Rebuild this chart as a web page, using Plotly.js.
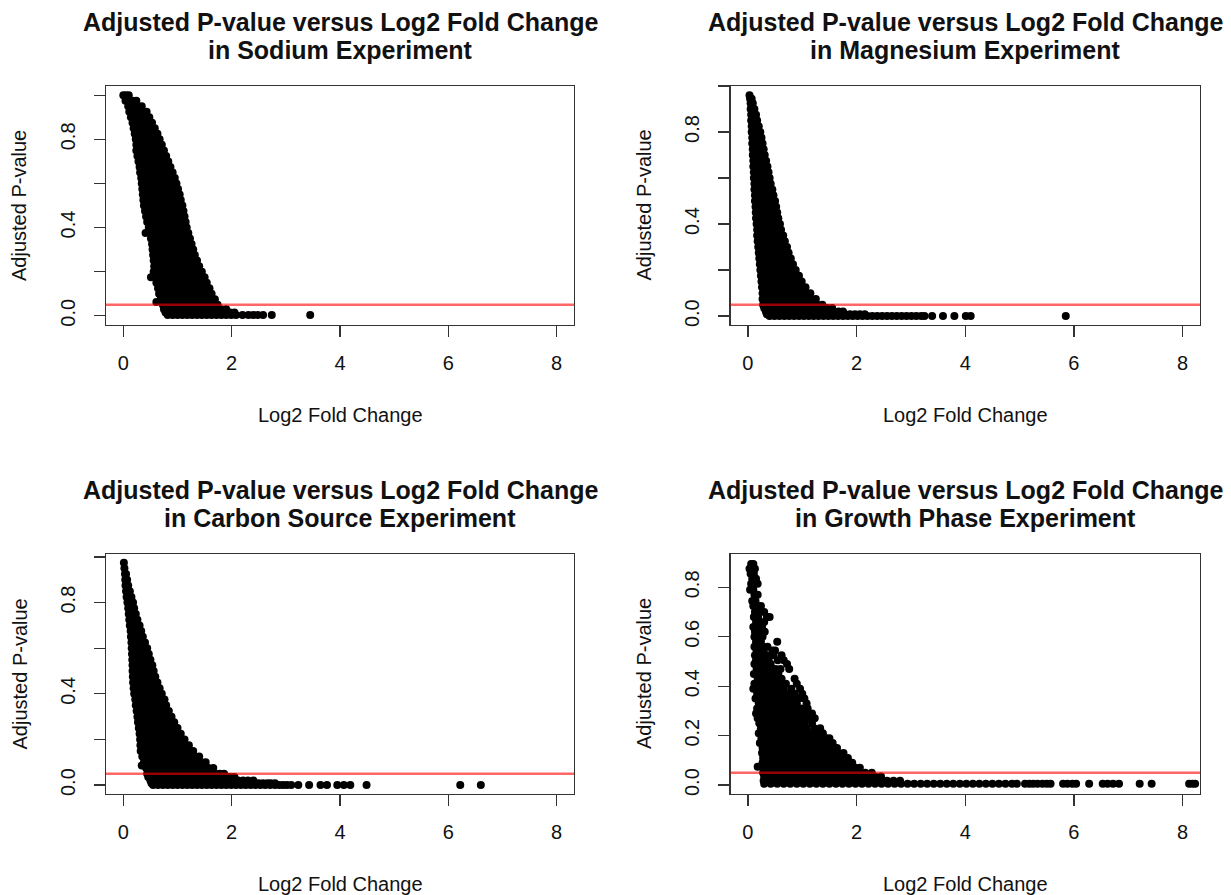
<!DOCTYPE html>
<html>
<head>
<meta charset="utf-8">
<script src="https://cdn.plot.ly/plotly-3.0.1.min.js"></script>
<style>
  html, body { margin: 0; padding: 0; background: #ffffff; }
  #chart { width: 1231px; height: 895px; }
</style>
</head>
<body>
<div id="chart"></div>
<script>
// ---------------- Data ----------------
// Each experiment: adjusted p-value levels, and the log2 fold changes of the genes seen at each level.
const experiments = ["Sodium", "Magnesium", "Carbon Source", "Growth Phase"];
const xTicks = [0, 2, 4, 6, 8];
const cutoff = 0.05;

const sodiumPadj = [1.000, 0.975, 0.950, 0.925, 0.900, 0.875, 0.850, 0.825, 0.800, 0.775, 0.750, 0.725, 0.700, 0.675, 0.650, 0.625, 0.600, 0.575, 0.550, 0.525, 0.500, 0.475, 0.450, 0.425, 0.400, 0.375, 0.350, 0.325, 0.300, 0.275, 0.250, 0.225, 0.200, 0.175, 0.150, 0.125, 0.100, 0.075, 0.062, 0.050, 0.030, 0.015, 0.003];
const sodiumLfc = [
  [0.00,0.05,0.10],
  [0.04,0.10,0.17,0.24],
  [0.09,0.15,0.21,0.28,0.34],
  [0.11,0.19,0.27,0.35,0.43],
  [0.14,0.22,0.31,0.40,0.48],
  [0.17,0.26,0.35,0.44,0.53],
  [0.19,0.27,0.35,0.43,0.50,0.58],
  [0.21,0.29,0.38,0.46,0.55,0.63],
  [0.23,0.32,0.40,0.49,0.58,0.67],
  [0.24,0.33,0.42,0.52,0.61,0.71],
  [0.24,0.34,0.44,0.54,0.64,0.75],
  [0.26,0.35,0.44,0.53,0.62,0.70,0.79],
  [0.28,0.37,0.46,0.55,0.64,0.74,0.83],
  [0.30,0.39,0.48,0.58,0.68,0.77,0.87],
  [0.31,0.41,0.51,0.61,0.71,0.81,0.91],
  [0.33,0.42,0.51,0.60,0.69,0.78,0.86,0.95],
  [0.34,0.43,0.52,0.62,0.71,0.80,0.89,0.98],
  [0.35,0.44,0.54,0.63,0.73,0.82,0.92,1.01],
  [0.36,0.46,0.55,0.65,0.75,0.85,0.94,1.04],
  [0.37,0.47,0.57,0.67,0.76,0.86,0.96,1.06],
  [0.38,0.47,0.56,0.65,0.73,0.82,0.91,1.00,1.09],
  [0.40,0.49,0.58,0.67,0.75,0.84,0.93,1.02,1.11],
  [0.42,0.51,0.60,0.69,0.77,0.86,0.95,1.04,1.13],
  [0.44,0.53,0.62,0.71,0.79,0.88,0.97,1.06,1.15],
  [0.47,0.56,0.65,0.73,0.82,0.91,1.00,1.08,1.17],
  [0.41,0.50,0.59,0.68,0.76,0.85,0.94,1.02,1.11,1.20],
  [0.51,0.60,0.69,0.78,0.87,0.96,1.05,1.14,1.23],
  [0.53,0.62,0.71,0.80,0.89,0.98,1.07,1.17,1.26],
  [0.54,0.63,0.72,0.82,0.91,1.00,1.10,1.19,1.29],
  [0.55,0.64,0.74,0.83,0.93,1.03,1.12,1.22,1.32],
  [0.56,0.66,0.76,0.86,0.96,1.06,1.16,1.26,1.36],
  [0.57,0.66,0.75,0.85,0.94,1.03,1.12,1.21,1.31,1.40],
  [0.56,0.66,0.75,0.85,0.95,1.05,1.15,1.25,1.35,1.45],
  [0.51,0.60,0.69,0.78,0.88,0.97,1.06,1.15,1.24,1.33,1.41,1.50],
  [0.61,0.70,0.79,0.88,0.97,1.06,1.16,1.25,1.35,1.44,1.54],
  [0.64,0.73,0.83,0.92,1.02,1.11,1.21,1.30,1.40,1.49,1.59],
  [0.66,0.75,0.85,0.95,1.04,1.14,1.24,1.34,1.44,1.53,1.63],
  [0.69,0.78,0.88,0.98,1.08,1.18,1.28,1.38,1.48,1.58,1.69],
  [0.61],
  [0.73,0.82,0.92,1.02,1.12,1.22,1.32,1.42,1.52,1.63,1.74],
  [0.75,0.84,0.94,1.03,1.13,1.22,1.32,1.41,1.51,1.61,1.70,1.80,1.90],
  [0.78,0.87,0.96,1.06,1.15,1.24,1.33,1.42,1.52,1.61,1.70,1.80,1.89,1.97,2.05],
  [0.82,0.91,1.00,1.09,1.18,1.27,1.36,1.45,1.54,1.63,1.72,1.81,1.90,1.99,2.08,2.20,2.31,2.40,2.48,2.58,2.74,3.45]
];

const magnesiumPadj = [0.960, 0.945, 0.925, 0.900, 0.875, 0.850, 0.825, 0.800, 0.775, 0.750, 0.725, 0.700, 0.675, 0.650, 0.625, 0.600, 0.575, 0.550, 0.525, 0.500, 0.475, 0.450, 0.425, 0.400, 0.375, 0.350, 0.325, 0.300, 0.275, 0.250, 0.225, 0.200, 0.175, 0.150, 0.125, 0.100, 0.075, 0.050, 0.035, 0.020, 0.008, 0.001];
const magnesiumLfc = [
  [0.03],
  [0.04,0.07],
  [0.05,0.09],
  [0.05,0.085,0.12],
  [0.06,0.105,0.15],
  [0.06,0.115,0.17],
  [0.07,0.135,0.20],
  [0.07,0.15,0.23],
  [0.08,0.165,0.25],
  [0.08,0.145,0.21,0.27],
  [0.09,0.155,0.225,0.29],
  [0.09,0.165,0.24,0.31],
  [0.10,0.18,0.26,0.335],
  [0.10,0.185,0.27,0.36],
  [0.11,0.20,0.29,0.38],
  [0.11,0.18,0.255,0.33,0.40],
  [0.12,0.19,0.27,0.345,0.42],
  [0.12,0.20,0.285,0.365,0.45],
  [0.13,0.21,0.295,0.38,0.47],
  [0.13,0.205,0.28,0.355,0.43,0.50],
  [0.14,0.215,0.29,0.37,0.445,0.52],
  [0.145,0.225,0.305,0.38,0.46,0.54],
  [0.15,0.23,0.31,0.40,0.48,0.56],
  [0.16,0.245,0.33,0.415,0.50,0.59],
  [0.17,0.25,0.33,0.41,0.49,0.55,0.61],
  [0.17,0.25,0.33,0.41,0.49,0.57,0.65],
  [0.18,0.265,0.35,0.43,0.51,0.595,0.68],
  [0.19,0.28,0.36,0.45,0.54,0.63,0.72],
  [0.20,0.28,0.36,0.44,0.52,0.60,0.675,0.75],
  [0.21,0.29,0.37,0.46,0.54,0.62,0.705,0.79],
  [0.22,0.30,0.39,0.47,0.56,0.65,0.74,0.83],
  [0.23,0.31,0.39,0.47,0.55,0.63,0.71,0.80,0.88],
  [0.24,0.32,0.41,0.50,0.58,0.67,0.76,0.85,0.94],
  [0.25,0.33,0.42,0.50,0.58,0.66,0.74,0.82,0.90,0.99],
  [0.26,0.35,0.44,0.53,0.62,0.71,0.80,0.89,0.97,1.06],
  [0.27,0.36,0.45,0.54,0.63,0.71,0.80,0.89,0.98,1.06,1.15],
  [0.27,0.36,0.45,0.54,0.63,0.72,0.81,0.90,0.98,1.07,1.16,1.25],
  [0.28,0.37,0.46,0.55,0.64,0.73,0.82,0.92,1.01,1.10,1.19,1.28,1.37],
  [0.30,0.39,0.48,0.57,0.66,0.75,0.84,0.93,1.02,1.11,1.20,1.29,1.37,1.46,1.55],
  [0.33,0.42,0.51,0.60,0.69,0.78,0.87,0.96,1.05,1.14,1.23,1.32,1.41,1.50,1.58,1.67,1.75],
  [0.35,0.44,0.53,0.62,0.71,0.80,0.89,0.98,1.07,1.16,1.25,1.34,1.43,1.52,1.61,1.70,1.79,1.88,1.97,2.06,2.15],
  [0.40,0.49,0.58,0.67,0.76,0.85,0.94,1.03,1.12,1.21,1.30,1.39,1.48,1.57,1.66,1.75,1.84,1.93,2.02,2.11,2.20,2.29,2.38,2.47,2.56,2.65,2.74,2.83,2.92,3.01,3.10,3.19,3.25,3.39,3.59,3.80,4.01,4.10,5.85]
];

const carbonPadj = [0.975, 0.950, 0.925, 0.900, 0.875, 0.850, 0.825, 0.800, 0.775, 0.750, 0.725, 0.700, 0.675, 0.650, 0.625, 0.600, 0.575, 0.550, 0.525, 0.500, 0.475, 0.450, 0.425, 0.400, 0.375, 0.350, 0.325, 0.300, 0.275, 0.250, 0.225, 0.200, 0.175, 0.150, 0.125, 0.100, 0.086, 0.075, 0.050, 0.035, 0.020, 0.008, 0.000];
const carbonLfc = [
  [0.01],
  [0.02],
  [0.03,0.05],
  [0.035,0.07],
  [0.04,0.09],
  [0.05,0.085,0.12],
  [0.06,0.105,0.15],
  [0.075,0.13,0.18],
  [0.09,0.145,0.20],
  [0.10,0.165,0.23],
  [0.11,0.185,0.26],
  [0.12,0.18,0.24,0.30],
  [0.135,0.20,0.265,0.33],
  [0.14,0.215,0.285,0.36],
  [0.15,0.23,0.315,0.40],
  [0.155,0.23,0.30,0.37,0.44],
  [0.16,0.24,0.315,0.395,0.47],
  [0.165,0.25,0.335,0.415,0.50],
  [0.17,0.26,0.35,0.445,0.535],
  [0.17,0.25,0.33,0.41,0.485,0.56],
  [0.175,0.26,0.34,0.425,0.51,0.59],
  [0.18,0.27,0.36,0.45,0.54,0.63],
  [0.19,0.27,0.35,0.43,0.51,0.59,0.67],
  [0.20,0.285,0.37,0.455,0.54,0.625,0.71],
  [0.22,0.31,0.40,0.49,0.58,0.67,0.76],
  [0.23,0.31,0.39,0.47,0.55,0.63,0.71,0.79],
  [0.245,0.33,0.41,0.50,0.58,0.67,0.755,0.84],
  [0.26,0.34,0.43,0.52,0.61,0.70,0.80,0.89],
  [0.27,0.35,0.43,0.51,0.60,0.68,0.77,0.855,0.94],
  [0.285,0.37,0.45,0.54,0.62,0.71,0.80,0.90,1.00],
  [0.30,0.38,0.47,0.56,0.65,0.74,0.83,0.92,1.00,1.06],
  [0.31,0.40,0.49,0.58,0.67,0.76,0.86,0.95,1.04,1.13],
  [0.315,0.40,0.49,0.58,0.67,0.76,0.85,0.94,1.03,1.12,1.21],
  [0.32,0.41,0.50,0.59,0.68,0.77,0.86,0.94,1.03,1.11,1.20,1.29],
  [0.35,0.44,0.53,0.62,0.71,0.80,0.89,0.98,1.07,1.16,1.24,1.32,1.40],
  [0.38,0.47,0.56,0.65,0.74,0.83,0.92,1.01,1.10,1.19,1.28,1.36,1.44,1.52],
  [0.34],
  [0.42,0.51,0.60,0.69,0.78,0.87,0.96,1.05,1.14,1.23,1.32,1.40,1.49,1.57,1.66],
  [0.44,0.53,0.62,0.71,0.80,0.89,0.98,1.07,1.16,1.25,1.34,1.43,1.52,1.61,1.70,1.78,1.86],
  [0.46,0.55,0.64,0.73,0.82,0.91,1.00,1.09,1.18,1.27,1.36,1.45,1.54,1.63,1.72,1.81,1.90,1.97,2.05],
  [0.50,0.59,0.68,0.77,0.86,0.95,1.04,1.13,1.22,1.31,1.40,1.49,1.58,1.67,1.76,1.85,1.94,2.03,2.12,2.21,2.30,2.40],
  [0.52,0.61,0.70,0.79,0.88,0.97,1.06,1.15,1.24,1.33,1.42,1.51,1.60,1.69,1.78,1.87,1.96,2.05,2.14,2.23,2.32,2.41,2.50,2.58,2.66,2.72,2.80],
  [0.55,0.64,0.73,0.82,0.91,1.00,1.09,1.18,1.27,1.36,1.45,1.54,1.63,1.72,1.81,1.90,1.99,2.08,2.17,2.26,2.35,2.44,2.53,2.62,2.71,2.80,2.88,2.95,3.02,3.10,3.23,3.43,3.64,3.76,3.95,4.07,4.19,4.49,6.22,6.60]
];

const growthPadj = [0.895, 0.875, 0.855, 0.835, 0.815, 0.790, 0.770, 0.745, 0.725, 0.700, 0.680, 0.660, 0.640, 0.620, 0.600, 0.580, 0.560, 0.545, 0.525, 0.505, 0.490, 0.470, 0.450, 0.430, 0.410, 0.390, 0.370, 0.350, 0.330, 0.310, 0.290, 0.270, 0.250, 0.230, 0.210, 0.190, 0.170, 0.150, 0.130, 0.110, 0.090, 0.074, 0.070, 0.050, 0.035, 0.018, 0.005];
const growthLfc = [
  [0.06,0.10],
  [0.03,0.09,0.13],
  [0.05,0.11],
  [0.08,0.15],
  [0.06,0.12,0.18],
  [0.04,0.10],
  [0.12,0.18],
  [0.08,0.14],
  [0.10,0.18,0.24],
  [0.13,0.21,0.30],
  [0.11,0.19,0.35,0.40],
  [0.15,0.22,0.30],
  [0.10,0.18,0.26],
  [0.13,0.22,0.31],
  [0.12,0.19,0.27],
  [0.15,0.24,0.54],
  [0.12,0.20,0.28,0.36],
  [0.16,0.29,0.45,0.50],
  [0.13,0.22,0.34,0.47,0.62],
  [0.15,0.26,0.38,0.55,0.66],
  [0.12,0.20,0.32,0.42,0.72],
  [0.16,0.27,0.37,0.51,0.60,0.76],
  [0.11,0.22,0.33,0.45,0.56],
  [0.18,0.28,0.40,0.52,0.62,0.86],
  [0.12,0.24,0.35,0.46,0.58,0.70,0.90],
  [0.10,0.20,0.31,0.43,0.55,0.66,0.80,0.96],
  [0.17,0.27,0.38,0.50,0.62,0.74,0.86,1.00],
  [0.14,0.24,0.34,0.46,0.58,0.70,0.82,0.94,1.04],
  [0.20,0.30,0.41,0.53,0.65,0.77,0.90,1.08],
  [0.17,0.26,0.37,0.49,0.61,0.73,0.86,0.98,1.10],
  [0.15,0.22,0.33,0.45,0.57,0.69,0.81,0.93,1.05,1.18],
  [0.18,0.28,0.40,0.52,0.64,0.76,0.88,1.00,1.12,1.23],
  [0.21,0.32,0.44,0.56,0.68,0.80,0.92,1.04,1.18],
  [0.24,0.36,0.48,0.60,0.72,0.84,0.96,1.08,1.22,1.33],
  [0.20,0.30,0.42,0.54,0.66,0.78,0.90,1.02,1.14,1.26,1.38],
  [0.25,0.36,0.48,0.60,0.72,0.84,0.96,1.08,1.20,1.32,1.44,1.50],
  [0.22,0.30,0.42,0.54,0.66,0.78,0.90,1.02,1.14,1.26,1.38,1.50,1.56],
  [0.27,0.38,0.50,0.62,0.74,0.86,0.98,1.10,1.22,1.34,1.46,1.58,1.64],
  [0.26,0.34,0.46,0.58,0.70,0.82,0.94,1.06,1.18,1.30,1.42,1.54,1.66,1.76],
  [0.28,0.40,0.52,0.64,0.76,0.88,1.00,1.12,1.24,1.36,1.48,1.60,1.72,1.84],
  [0.27,0.36,0.48,0.60,0.72,0.84,0.96,1.08,1.20,1.32,1.44,1.56,1.68,1.80,1.92],
  [0.18],
  [0.30,0.42,0.54,0.66,0.78,0.90,1.02,1.14,1.26,1.38,1.50,1.62,1.74,1.86,1.98,2.06],
  [0.28,0.36,0.48,0.60,0.72,0.84,0.96,1.08,1.20,1.32,1.44,1.56,1.68,1.80,1.92,2.04,2.16,2.28],
  [0.30,0.42,0.54,0.66,0.78,0.90,1.02,1.14,1.26,1.38,1.50,1.62,1.74,1.86,1.98,2.10,2.22,2.34,2.45],
  [0.29,0.40,0.52,0.64,0.76,0.88,1.00,1.12,1.24,1.36,1.48,1.60,1.72,1.84,1.96,2.08,2.20,2.32,2.44,2.56,2.68,2.80],
  [0.30,0.42,0.54,0.66,0.78,0.90,1.02,1.14,1.26,1.38,1.50,1.62,1.74,1.86,1.98,2.10,2.22,2.34,2.46,2.58,2.70,2.82,2.94,3.06,3.18,3.30,3.42,3.54,3.66,3.78,3.90,4.02,4.14,4.26,4.38,4.50,4.62,4.74,4.86,4.95,5.10,5.18,5.25,5.33,5.42,5.50,5.57,5.80,5.88,5.97,6.04,6.28,6.53,6.62,6.72,6.83,7.21,7.43,8.12,8.18,8.23]
];

// ---------------- Build the traces ----------------
function flatten(levels, lfcRows) {
  const x = [], y = [];
  levels.forEach((p, i) => { lfcRows[i].forEach(v => { x.push(v); y.push(p); }); });
  return { x, y };
}
const sets = [
  flatten(sodiumPadj, sodiumLfc),
  flatten(magnesiumPadj, magnesiumLfc),
  flatten(carbonPadj, carbonLfc),
  flatten(growthPadj, growthLfc)
];
const axisIds = ["", "2", "3", "4"];
const traces = sets.map((s, i) => ({
  type: "scatter", mode: "markers",
  x: s.x, y: s.y,
  xaxis: "x" + axisIds[i], yaxis: "y" + axisIds[i],
  marker: { color: "#000000", size: 8, line: { width: 0 } },
  hoverinfo: "x+y", showlegend: false
}));

// ---------------- Layout ----------------
const W = 1231, H = 895;
const FONT = "Liberation Sans, Arial, Helvetica, sans-serif";
const ink = "#111111";
const frames = [
  { l: 106, r: 574, t: 86, b: 325 },
  { l: 730.5, r: 1200, t: 86, b: 325 },
  { l: 106, r: 574, t: 554, b: 794 },
  { l: 730.5, r: 1200, t: 554, b: 794 }
];
const yRanges = [[-0.042, 1.042], [-0.0385, 1.0], [-0.039, 1.013], [-0.036, 0.935]];
const yTickVals = [[0, 0.2, 0.4, 0.6, 0.8, 1.0], [0, 0.2, 0.4, 0.6, 0.8, 1.0], [0, 0.2, 0.4, 0.6, 0.8, 1.0], [0, 0.2, 0.4, 0.6, 0.8]];
const yTickText = [["0.0", "", "0.4", "", "0.8", ""], ["0.0", "", "0.4", "", "0.8", ""], ["0.0", "", "0.4", "", "0.8", ""], ["0.0", "0.2", "0.4", "0.6", "0.8"]];

const layout = {
  width: W, height: H,
  margin: { l: 0, r: 0, t: 0, b: 0 },
  paper_bgcolor: "#ffffff", plot_bgcolor: "#ffffff",
  font: { family: FONT, size: 20, color: ink },
  showlegend: false,
  shapes: [], annotations: []
};

frames.forEach((f, i) => {
  const id = axisIds[i];
  layout["xaxis" + id] = {
    domain: [f.l / W, f.r / W],
    range: [-0.32, 8.32],
    anchor: "y" + id,
    tickmode: "array", tickvals: xTicks, ticktext: xTicks.map(String),
    ticks: "outside", ticklen: 11, tickwidth: 1.3, tickcolor: "#333333",
    showline: true, mirror: true, linecolor: "#333333", linewidth: 1.3,
    showgrid: false, zeroline: false,
    tickfont: { family: FONT, size: 20, color: ink },
    ticklabelstandoff: 9,
    fixedrange: true
  };
  layout["yaxis" + id] = {
    domain: [1 - f.b / H, 1 - f.t / H],
    range: yRanges[i],
    anchor: "x" + id,
    tickmode: "array", tickvals: yTickVals[i], ticktext: yTickText[i],
    ticks: "outside", ticklen: 11, tickwidth: 1.3, tickcolor: "#333333",
    tickangle: -90,
    showline: true, mirror: true, linecolor: "#333333", linewidth: 1.3,
    showgrid: false, zeroline: false,
    tickfont: { family: FONT, size: 20, color: ink },
    ticklabelstandoff: 11,
    fixedrange: true
  };
  // significance cut-off line
  layout.shapes.push({
    type: "line", xref: "x" + id + " domain", yref: "y" + id,
    x0: 0, x1: 1, y0: cutoff, y1: cutoff,
    line: { color: "rgba(255,0,0,0.6)", width: 2.5 }, layer: "above"
  });
  const cx = (f.l + f.r) / 2;
  const titleTop = f.t - 64.3, titleBottom = f.t - 36;
  layout.annotations.push(
    { xref: "paper", yref: "paper", x: cx / W, y: 1 - titleTop / H, xanchor: "center", yanchor: "middle",
      text: "<b>Adjusted P-value versus Log2 Fold Change</b>", showarrow: false,
      font: { family: FONT, size: 25, color: ink } },
    { xref: "paper", yref: "paper", x: cx / W, y: 1 - titleBottom / H, xanchor: "center", yanchor: "middle",
      text: "<b>in " + experiments[i] + " Experiment</b>", showarrow: false,
      font: { family: FONT, size: 25, color: ink } },
    { xref: "paper", yref: "paper", x: cx / W, y: 1 - (f.b + 90) / H, xanchor: "center", yanchor: "middle",
      text: "Log2 Fold Change", showarrow: false,
      font: { family: FONT, size: 20, color: ink } },
    { xref: "paper", yref: "paper", x: (f.l - 86.5) / W, y: 1 - ((f.t + f.b) / 2) / H, xanchor: "center", yanchor: "middle",
      text: "Adjusted P-value", textangle: -90, showarrow: false,
      font: { family: FONT, size: 20, color: ink } }
  );
});

Plotly.newPlot("chart", traces, layout, { displayModeBar: false, staticPlot: true });
</script>
</body>
</html>
